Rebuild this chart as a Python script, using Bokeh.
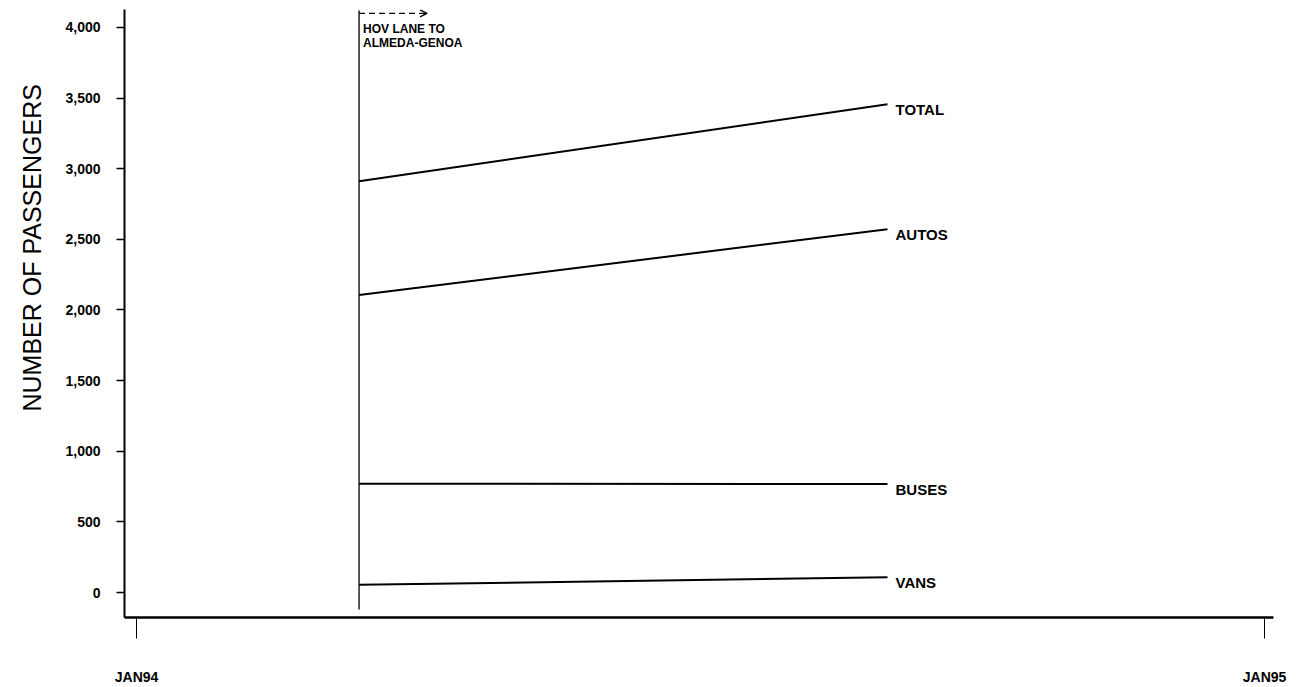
import pandas as pd
from bokeh.plotting import figure
from bokeh.models import FixedTicker, Range1d, Label, Arrow, OpenHead, ColumnDataSource, NumeralTickFormatter, Title
from bokeh.core.properties import value
from bokeh.embed import file_html
from bokeh.resources import INLINE

# ---- data ----
series_names = ["TOTAL", "AUTOS", "BUSES", "VANS"]
period_dates = ["1994-03-14", "1994-09-01"]
total_vals = [2912, 3456]
autos_vals = [2106, 2572]
buses_vals = [770, 768]
vans_vals = [55, 108]
event_date = "1994-03-14"
event_text = ["HOV LANE TO", "ALMEDA-GENOA"]
x_tick_dates = ["1994-01-01", "1995-01-01"]
x_tick_labels = ["JAN94", "JAN95"]
y_ticks = [0, 500, 1000, 1500, 2000, 2500, 3000, 3500, 4000]

base = pd.Timestamp("1994-01-01")
def day(d):
    return (pd.Timestamp(d) - base).days

xs = [day(d) for d in period_dates]
ev = day(event_date)
xt = [day(d) for d in x_tick_dates]

FONT = "Liberation Sans"

p = figure(width=1304, height=687, output_backend="svg", toolbar_location=None,
           x_range=Range1d(-3.9, 367.9), y_range=Range1d(-176.7, 4127),
           min_border_left=124, min_border_right=31, min_border_top=9, min_border_bottom=69)
p.outline_line_color = None
p.grid.visible = False
p.background_fill_color = "white"
p.border_fill_color = "white"

# y axis
ya = p.yaxis[0]
ya.ticker = FixedTicker(ticks=y_ticks)
ya.formatter = NumeralTickFormatter(format="0,0")
ya.major_tick_out = 8
ya.major_tick_in = 0
ya.minor_tick_line_color = None
ya.axis_line_width = 2
ya.major_tick_line_width = 1.5
ya.major_label_standoff = 16
ya.major_label_text_font = FONT
ya.major_label_text_font_style = "bold"
ya.major_label_text_font_size = "14px"
ya.major_label_text_color = "black"
ya.axis_line_color = "black"
ya.major_tick_line_color = "black"

# x axis
xa = p.xaxis[0]
xa.ticker = FixedTicker(ticks=xt)
xa.major_label_overrides = {xt[i]: x_tick_labels[i] for i in range(len(xt))}
xa.major_tick_out = 21
xa.major_tick_in = 0
xa.minor_tick_line_color = None
xa.axis_line_width = 2.5
xa.major_tick_line_width = 1
xa.major_label_standoff = 30
xa.major_label_text_font = FONT
xa.major_label_text_font_style = "bold"
xa.major_label_text_font_size = "14px"
xa.major_label_text_color = "black"
xa.axis_line_color = "black"
xa.major_tick_line_color = "black"

# y title, placed outside the axis
p.add_layout(Title(text="NUMBER OF PASSENGERS", align="left", offset=206, standoff=30,
                   vertical_align="top",
                   text_font=FONT, text_font_size="25px", text_font_style="normal",
                   text_color="black"), "left")

# event vertical line
p.segment(x0=[ev], y0=[-120], x1=[ev], y1=[4120], line_color="black", line_width=1.3)
p.add_layout(Arrow(x_start=ev, y_start=4099, x_end=ev + 22, y_end=4099,
                   line_color="black", line_width=1.3, line_dash="6 4",
                   end=OpenHead(size=7, line_color="black", line_width=1.3)))
for i, t in enumerate(event_text):
    p.add_layout(Label(x=ev, y=3992 - i * 99, text=t, x_offset=4, text_baseline="middle",
                       text_font=FONT, text_font_style="bold", text_font_size="12px",
                       text_color="black"))

vals = [total_vals, autos_vals, buses_vals, vans_vals]
for name, v in zip(series_names, vals):
    p.line(xs, v, line_color="black", line_width=2)

src = ColumnDataSource(dict(x=[xs[-1]] * 4, y=[v[-1] for v in vals], t=series_names))
p.text(x="x", y="y", text="t", source=src, x_offset=8, y_offset=5, text_baseline="middle",
       text_font=value(FONT), text_font_style="bold", text_font_size="15px", text_color="black")

open("out.html", "w").write(file_html(p, INLINE))
